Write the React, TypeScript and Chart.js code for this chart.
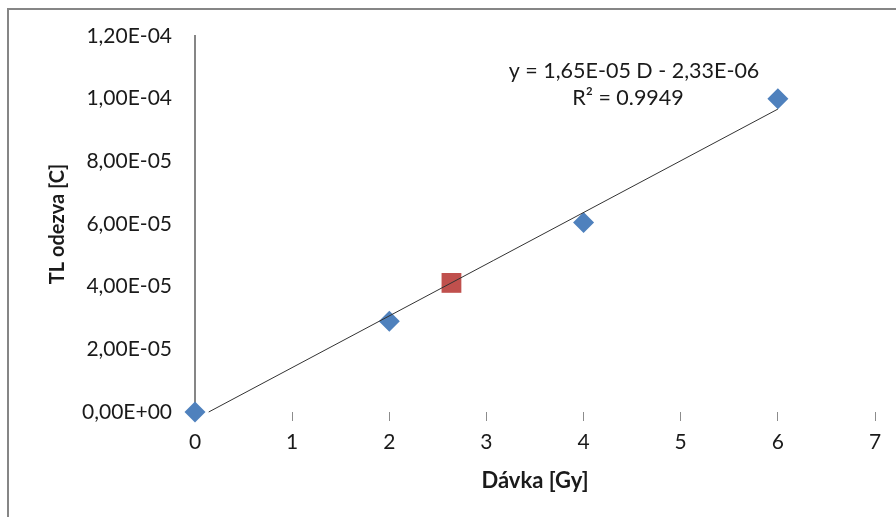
import React, { useEffect, useRef } from "react";
import { Chart, registerables } from "chart.js";

Chart.register(...registerables);

// Measured points (blue diamonds)
const doseValues = [0, 2, 4, 6];
const responseValues = [0, 2.9e-5, 6.05e-5, 1.0e-4];

// Unknown sample (red square)
const sampleDose = [2.64];
const sampleResponse = [4.12e-5];

// Linear fit y = slope * D + intercept
const slope = 1.65e-5;
const intercept = -2.33e-6;
const trendEnd = 6;

const xTicks = [0, 1, 2, 3, 4, 5, 6, 7];
const yTicks = [0, 2e-5, 4e-5, 6e-5, 8e-5, 1e-4, 1.2e-4];

const equationText = "y = 1,65E-05 D - 2,33E-06";
const r2Text = "R\u00B2 = 0.9949";
const xTitle = "Dávka [Gy]";
const yTitle = "TL odezva [C]";

const FONT = "Lato, 'Open Sans', sans-serif";

function fmtExp(v: number): string {
  const [m, e] = v.toExponential(2).split("e");
  const n = parseInt(e, 10);
  const sign = n < 0 ? "-" : "+";
  const ab = Math.abs(n).toString().padStart(2, "0");
  return m.replace(".", ",") + "E" + sign + ab;
}

export default function App() {
  const ref = useRef<HTMLCanvasElement | null>(null);

  useEffect(() => {
    if (!ref.current) return;
    const trendStart = -intercept / slope;
    const trendData = [
      { x: trendStart, y: slope * trendStart + intercept },
      { x: trendEnd, y: slope * trendEnd + intercept },
    ];

    const framePlugin = {
      id: "frame",
      beforeDraw(chart: any) {
        const ctx = chart.ctx;
        ctx.save();
        ctx.fillStyle = "#ffffff";
        ctx.fillRect(0, 0, chart.width, chart.height);
        ctx.fillStyle = "#868686";
        ctx.fillRect(7, 8, chart.width - 7, 2);
        ctx.fillRect(7, 8, 2, chart.height - 8);
        ctx.restore();
      },
      afterDraw(chart: any) {
        const ctx = chart.ctx;
        ctx.save();
        ctx.fillStyle = "#1a1a1a";
        ctx.font = `21.5px ${FONT}`;
        ctx.textAlign = "center";
        ctx.textBaseline = "middle";
        ctx.fillText(equationText, 634, 71);
        ctx.fillText(r2Text, 628, 98);
        ctx.restore();
      },
    };

    const chart = new Chart(ref.current, {
      type: "scatter",
      data: {
        datasets: [
          {
            type: "line",
            label: "trend",
            data: trendData,
            borderColor: "#333333",
            borderWidth: 1,
            pointRadius: 0,
            fill: false,
            order: 0,
            clip: false,
          } as any,
          {
            label: "measured",
            data: doseValues.map((d, i) => ({ x: d, y: responseValues[i] })),
            backgroundColor: "#4F81BD",
            borderColor: "#4F81BD",
            pointStyle: "rectRot",
            pointRadius: 10.5,
            borderWidth: 0,
            order: 1,
            clip: false,
          },
          {
            label: "sample",
            data: sampleDose.map((d, i) => ({ x: d, y: sampleResponse[i] })),
            backgroundColor: "#C0504D",
            borderColor: "#C0504D",
            pointStyle: "rect",
            pointRadius: 14,
            borderWidth: 0,
            order: 2,
            clip: false,
          },
        ],
      },
      options: {
        responsive: false,
        animation: false,
        layout: { padding: { top: 36, right: 21, left: 0, bottom: 0 } },
        plugins: { legend: { display: false }, tooltip: { enabled: false } },
        scales: {
          x: {
            type: "linear",
            min: 0,
            max: 7,
            afterFit(scale: any) {
              scale.height = 105;
            },
            afterBuildTicks(scale: any) {
              scale.ticks = xTicks.map((v) => ({ value: v }));
            },
            grid: {
              display: true,
              drawOnChartArea: false,
              drawTicks: true,
              tickLength: 9,
              color: "#8c8c8c",
              lineWidth: 1,
            },
            border: { display: false },
            ticks: {
              padding: 9,
              color: "#1a1a1a",
              font: { family: FONT, size: 21 },
              callback: (v: any) => String(v),
            },
            title: {
              display: true,
              text: xTitle,
              color: "#1a1a1a",
              font: { family: FONT, size: 22, weight: "bold" },
              padding: { top: 0, bottom: 23 },
            },
          },
          y: {
            type: "linear",
            min: 0,
            max: 1.2e-4,
            afterFit(scale: any) {
              scale.width = 195;
            },
            afterBuildTicks(scale: any) {
              scale.ticks = yTicks.map((v) => ({ value: v }));
            },
            grid: { display: false, drawTicks: false },
            border: { display: true, color: "#868686", width: 2 },
            ticks: {
              padding: 23,
              color: "#1a1a1a",
              font: { family: FONT, size: 21 },
              callback: (v: any) => fmtExp(Number(v)),
            },
            title: {
              display: true,
              text: yTitle,
              color: "#1a1a1a",
              font: { family: FONT, size: 20, weight: "bold" },
              padding: { top: 46, bottom: 0 },
            },
          },
        },
      },
      plugins: [framePlugin],
    });
    return () => chart.destroy();
  }, []);

  return (
    <div style={{ position: "absolute", left: 0, top: 0, width: 896, height: 517 }}>
      <canvas ref={ref} width={896} height={517} style={{ display: "block" }} />
    </div>
  );
}
